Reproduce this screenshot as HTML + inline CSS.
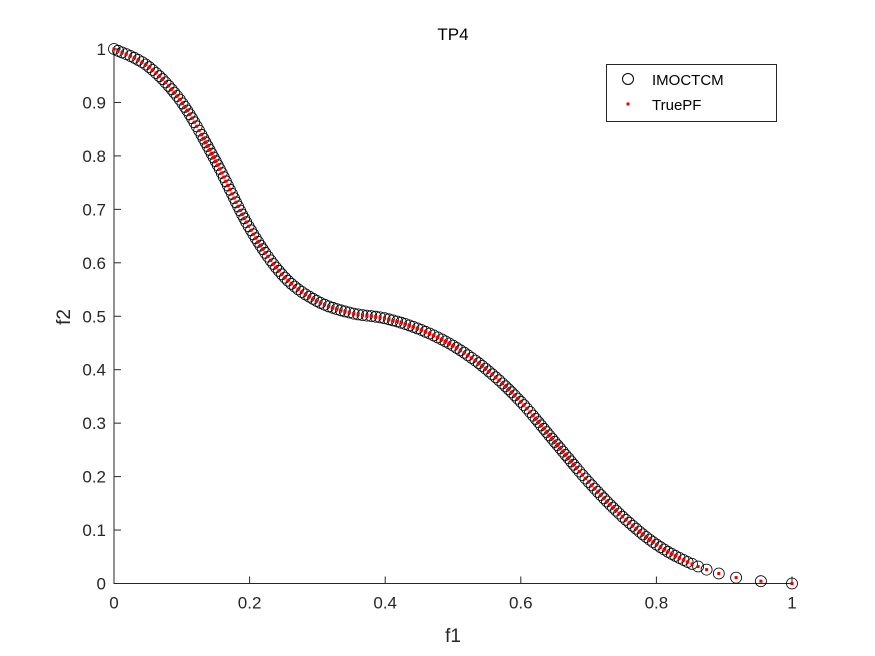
<!DOCTYPE html>
<html><head><meta charset="utf-8"><style>
body{margin:0;background:#fff}
svg{display:block;font-family:"Liberation Sans",Arial,sans-serif}
</style></head><body>
<svg id="s" width="875" height="656" viewBox="0 0 875 656">
<rect x="0" y="0" width="875" height="656" fill="#fff"/>
<g id="ax" stroke="#262626" stroke-width="1" fill="none"></g>
<g id="lab" fill="#262626" font-size="17"></g>
<g id="pts"></g>
<text x="453" y="40" text-anchor="middle" font-size="17" fill="#000">TP4</text>
<text x="453" y="642" text-anchor="middle" font-size="19" fill="#262626">f1</text>
<text x="0" y="0" transform="translate(70,317) rotate(-90)" text-anchor="middle" font-size="19" fill="#262626">f2</text>
<rect x="606.5" y="64.5" width="170" height="57" fill="#fff" stroke="#262626"/>
<circle cx="628" cy="79" r="5.5" fill="none" stroke="#000"/>
<rect x="626.5" y="102.5" width="3" height="3" fill="#e00"/>
<text x="652" y="85" font-size="15" fill="#000">IMOCTCM</text>
<text x="652" y="110" font-size="15" fill="#000">TruePF</text>
</svg>
<script>
var X0=114,X1=792,Y0=583.5,Y1=49;
function px(x){return X0+x*(X1-X0)}function py(y){return Y0-y*(Y0-Y1)}
var ax=document.getElementById('ax'),lab=document.getElementById('lab'),ns='http://www.w3.org/2000/svg';
function el(p,t,a,txt){var e=document.createElementNS(ns,t);for(var k in a)e.setAttribute(k,a[k]);if(txt!=null)e.textContent=txt;p.appendChild(e);return e}
el(ax,'path',{d:'M'+X0+' '+Y1+'V'+Y0+'H'+X1});
for(var i=0;i<=10;i++){var v=i/10,y=py(v),x=px(v);
el(ax,'path',{d:'M'+X0+' '+y+'h7'});
el(lab,'text',{x:X0-8,y:y+6,'text-anchor':'end'},i==0?'0':i==10?'1':v.toFixed(1));
if(i%2==0){el(ax,'path',{d:'M'+x+' '+Y0+'v-7'});el(lab,'text',{x:x,y:Y0+25,'text-anchor':'middle'},i==0?'0':i==10?'1':v.toFixed(1));}}
var C=[[0,1],[0.05,0.968],[0.1,0.9],[0.15,0.79],[0.2,0.665],[0.25,0.575],[0.3,0.528],[0.35,0.506],[0.4,0.496],[0.45,0.476],[0.5,0.445],[0.55,0.40],[0.6,0.34],[0.65,0.265],[0.7,0.19],[0.75,0.125],[0.8,0.073],[0.85,0.038],[0.9,0.016],[0.95,0.005],[1,0]];
var P=C.map(function(c){return[px(c[0]),py(c[1])]});
var dense=[];
for(var i=0;i<P.length-1;i++){var p0=P[Math.max(0,i-1)],p1=P[i],p2=P[i+1],p3=P[Math.min(P.length-1,i+2)];
for(var t=0;t<1;t+=0.01){var t2=t*t,t3=t2*t;var f=function(a,b,c,d){return 0.5*(2*b+(-a+c)*t+(2*a-5*b+4*c-d)*t2+(-a+3*b-3*c+d)*t3)};dense.push([f(p0[0],p1[0],p2[0],p3[0]),f(p0[1],p1[1],p2[1],p3[1])]);}}
dense.push(P[P.length-1]);
var out=[dense[0]],acc=0;
for(var i=1;i<dense.length;i++){var dx=dense[i][0]-dense[i-1][0],dy=dense[i][1]-dense[i-1][1];acc+=Math.sqrt(dx*dx+dy*dy);
var xf=(dense[i][0]-X0)/(X1-X0);var step=xf<0.85?4.2:4.2+(xf-0.85)*200;
if(acc>=step){out.push(dense[i]);acc=0;}}
out.push(P[P.length-1]);
var g=document.getElementById('pts'),s='',r='';
out.forEach(function(p){s+='<circle cx="'+p[0].toFixed(1)+'" cy="'+p[1].toFixed(1)+'" r="5.5" fill="none" stroke="#000" stroke-width="0.8"/>';
r+='<rect x="'+(p[0]-1.5).toFixed(1)+'" y="'+(p[1]-1.5).toFixed(1)+'" width="3" height="3" fill="#e00"/>';});
g.innerHTML=s+r;
</script>
</body></html>
